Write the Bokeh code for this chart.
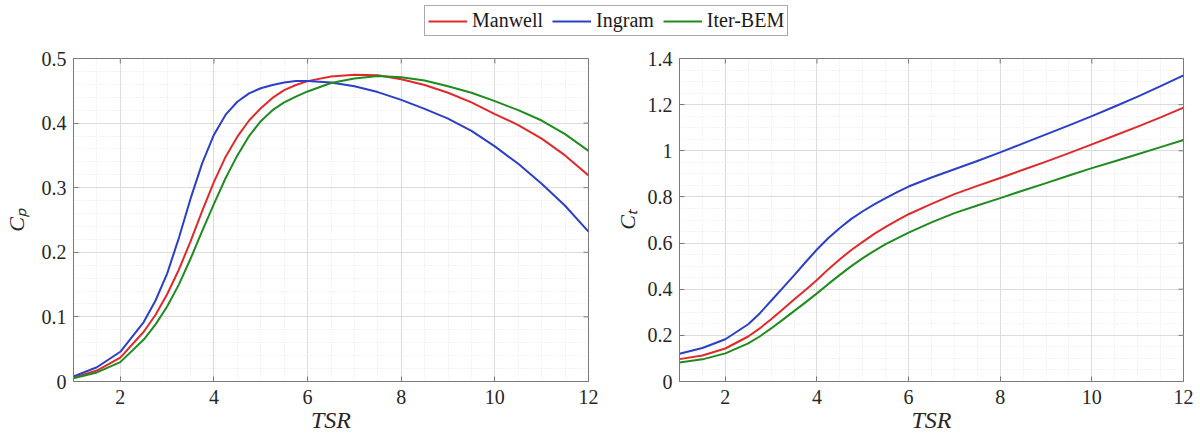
import numpy as np
from bokeh.plotting import figure
from bokeh.models import Range1d, FixedTicker, Legend, LegendItem, NumeralTickFormatter
from bokeh.layouts import column, row
from bokeh.embed import file_html
from bokeh.resources import INLINE

# ---------------- data ----------------
tsr = [1.0, 1.5, 2.0, 2.5, 2.75, 3.0, 3.25, 3.5, 3.75, 4.0, 4.25, 4.5, 4.75, 5.0, 5.25,
       5.5, 5.75, 6.0, 6.5, 7.0, 7.5, 8.0, 8.5, 9.0, 9.5, 10.0, 10.5, 11.0, 11.5, 12.0]

cp_manwell = [0.006, 0.017, 0.037, 0.077, 0.103, 0.135, 0.173, 0.217, 0.264, 0.309, 0.348,
              0.379, 0.404, 0.423, 0.439, 0.451, 0.459, 0.465, 0.472, 0.475, 0.474, 0.468,
              0.459, 0.447, 0.432, 0.414, 0.397, 0.376, 0.350, 0.319]
cp_ingram = [0.008, 0.022, 0.046, 0.092, 0.125, 0.167, 0.222, 0.283, 0.338, 0.382, 0.413,
             0.433, 0.446, 0.454, 0.459, 0.463, 0.465, 0.465, 0.463, 0.457, 0.448, 0.436,
             0.422, 0.407, 0.388, 0.364, 0.337, 0.306, 0.272, 0.232]
cp_iterbem = [0.005, 0.014, 0.030, 0.065, 0.088, 0.116, 0.150, 0.190, 0.233, 0.275, 0.315,
              0.350, 0.380, 0.403, 0.420, 0.432, 0.441, 0.449, 0.462, 0.469, 0.473, 0.471,
              0.466, 0.457, 0.447, 0.434, 0.420, 0.404, 0.383, 0.357]

ct_manwell = [0.097, 0.113, 0.143, 0.195, 0.230, 0.270, 0.312, 0.355, 0.397, 0.440, 0.487,
              0.530, 0.570, 0.605, 0.640, 0.670, 0.698, 0.725, 0.770, 0.812, 0.848, 0.882,
              0.918, 0.953, 0.990, 1.028, 1.066, 1.105, 1.145, 1.187]
ct_ingram = [0.120, 0.145, 0.183, 0.248, 0.295, 0.350, 0.405, 0.460, 0.517, 0.572, 0.622,
             0.665, 0.705, 0.738, 0.768, 0.795, 0.821, 0.845, 0.884, 0.920, 0.956, 0.993,
             1.032, 1.071, 1.110, 1.150, 1.192, 1.235, 1.280, 1.327]
ct_iterbem = [0.082, 0.096, 0.122, 0.165, 0.195, 0.230, 0.267, 0.305, 0.343, 0.382, 0.423,
              0.462, 0.500, 0.535, 0.566, 0.595, 0.620, 0.645, 0.690, 0.730, 0.763, 0.795,
              0.828, 0.860, 0.893, 0.925, 0.955, 0.985, 1.016, 1.047]

series_names = ["Manwell", "Ingram", "Iter-BEM"]
series_colors = ["#e02a2a", "#2b3fc7", "#1e8c1e"]

x_ticks = [2, 4, 6, 8, 10, 12]
cp_ticks = [0, 0.1, 0.2, 0.3, 0.4, 0.5]
ct_ticks = [0, 0.2, 0.4, 0.6, 0.8, 1.0, 1.2, 1.4]

x_minor = [float(v) for v in np.round(np.arange(1, 12.01, 0.5), 3)]
cp_minor = [float(v) for v in np.round(np.arange(0, 0.501, 0.02), 3)]
ct_minor = [float(v) for v in np.round(np.arange(0, 1.401, 0.05), 3)]

SERIF = "Liberation Serif"
TXT = "#262626"
AX = "#7a7a7a"


def make_panel(y_list, y_max, y_ticks, y_minor, ylabel, left, right, ylab_standoff):
    p = figure(width=600, height=397, x_range=Range1d(1, 12), y_range=Range1d(0, y_max),
               min_border_left=left, min_border_right=right, min_border_top=18,
               min_border_bottom=56, toolbar_location=None, output_backend="svg")
    p.background_fill_color = "white"
    p.border_fill_color = "white"
    p.outline_line_color = AX

    xt = FixedTicker(ticks=x_ticks, minor_ticks=x_minor)
    yt = FixedTicker(ticks=y_ticks, minor_ticks=y_minor)
    p.xaxis.ticker = xt
    p.yaxis.ticker = yt
    p.xgrid.ticker = xt
    p.ygrid.ticker = yt
    p.yaxis.formatter = NumeralTickFormatter(format="0.[0]")

    for g in (p.xgrid, p.ygrid):
        g.grid_line_color = "#dcdcdc"
        g.grid_line_width = 1
        g.minor_grid_line_color = "#e6e6e6"
        g.minor_grid_line_dash = "1 2"
        g.minor_grid_line_width = 1

    p.axis.major_tick_in = 5
    p.axis.major_tick_out = 0
    p.axis.minor_tick_in = 0
    p.axis.minor_tick_out = 0
    p.axis.axis_line_color = AX
    p.axis.major_tick_line_color = AX
    p.axis.major_label_text_font = SERIF
    p.axis.major_label_text_font_style = "normal"
    p.axis.major_label_text_font_size = "20px"
    p.axis.major_label_text_color = TXT
    p.axis.axis_label_text_font = SERIF
    p.axis.axis_label_text_font_style = "italic"
    p.axis.axis_label_text_color = TXT

    p.xaxis.major_label_standoff = 8
    p.yaxis.major_label_standoff = 7
    p.xaxis.axis_label = "TSR"
    p.xaxis.axis_label_text_font_size = "24px"
    p.xaxis.axis_label_standoff = 0
    p.yaxis.axis_label = ylabel
    p.yaxis.axis_label_text_font_size = "22px"
    p.yaxis.axis_label_standoff = ylab_standoff

    # inward tick marks on the top and right edges of the box
    p.ray(x=x_ticks, y=[y_max] * len(x_ticks), length=5, length_units="screen",
          angle=-np.pi / 2, line_color=AX, line_width=1)
    p.ray(x=[12] * len(y_ticks), y=y_ticks, length=5, length_units="screen",
          angle=np.pi, line_color=AX, line_width=1)

    for ys, c in zip(y_list, series_colors):
        p.line(tsr, ys, line_color=c, line_width=2, line_join="round")
    return p


p1 = make_panel([cp_manwell, cp_ingram, cp_iterbem], 0.5, cp_ticks, cp_minor,
                "C\u209a", 73, 12, 10)
p2 = make_panel([ct_manwell, ct_ingram, ct_iterbem], 1.4, ct_ticks, ct_minor,
                "C\u209c", 79, 17, 5)

# ---------------- legend strip ----------------
leg = figure(width=1200, height=40, x_range=Range1d(0, 1), y_range=Range1d(0, 1),
             min_border=0, toolbar_location=None, output_backend="svg",
             x_axis_location=None, y_axis_location=None)
leg.grid.visible = False
leg.outline_line_color = None
leg.background_fill_color = "white"
rs = [leg.line([5, 6], [5, 6], line_color=c, line_width=2) for c in series_colors]
legend = Legend(items=[LegendItem(label=n, renderers=[r]) for n, r in zip(series_names, rs)],
                orientation="horizontal", location=(424, 4), margin=0, padding=3,
                spacing=9, glyph_width=39, glyph_height=20, label_height=20,
                label_standoff=5, label_text_font=SERIF, label_text_font_size="20px",
                label_text_color="#1a1a1a", border_line_color="#555555",
                border_line_width=1, background_fill_color="white",
                background_fill_alpha=1.0)
leg.add_layout(legend)

layout = column(leg, row(p1, p2))
open("out.html", "w").write(file_html(layout, INLINE))
